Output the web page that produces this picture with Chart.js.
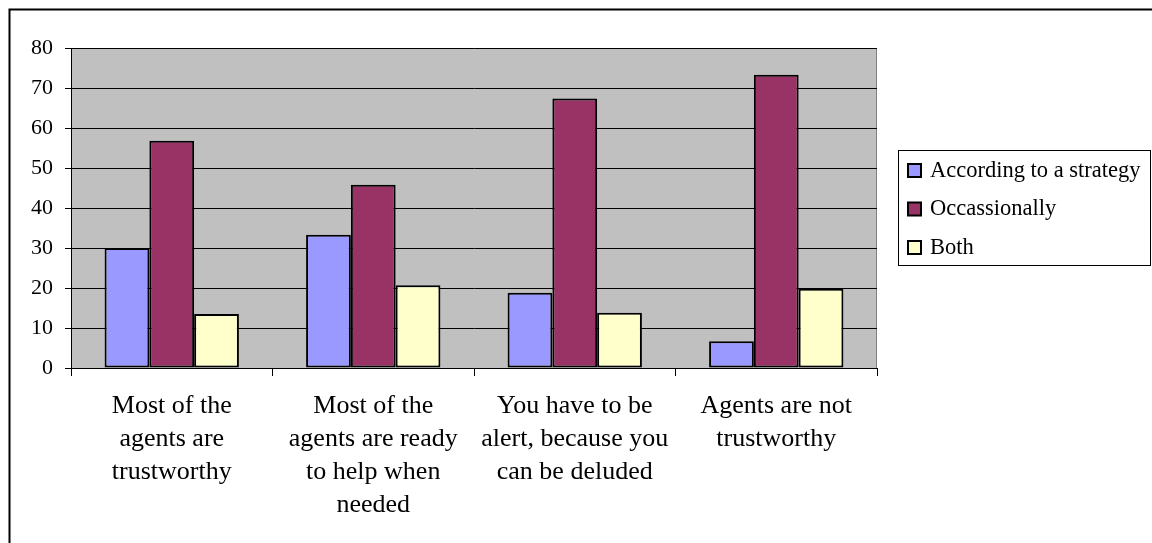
<!DOCTYPE html>
<html>
<head>
<meta charset="utf-8">
<script src="https://cdn.jsdelivr.net/npm/chart.js@4/dist/chart.umd.min.js"></script>
<style>
  html, body { margin: 0; padding: 0; background: #fff; }
  #wrap { width: 1152px; height: 543px; position: relative; }
</style>
</head>
<body>
<div id="wrap"><canvas id="grafico"></canvas></div>
<script>
const categorias = [
    ['Most of the', 'agents are', 'trustworthy'],
    ['Most of the', 'agents are ready', 'to help when', 'needed'],
    ['You have to be', 'alert, because you', 'can be deluded'],
    ['Agents are not', 'trustworthy']
];
const seriesNombres = ['According to a strategy', 'Occassionally', 'Both'];
const estrategia = [30, 33.3, 18.8, 6.7];
const ocasional = [56.8, 45.8, 67.4, 73.3];
const ambos = [13.5, 20.7, 13.8, 19.8];
const colores = ['#9999FF', '#993366', '#FFFFCC'];

const fuente = '"Liberation Serif", "Times New Roman", serif';

// fondo gris del area de trazado y marco exterior
const fondoPlugin = {
    id: 'fondo',
    beforeDraw(chart) {
        const c = chart.ctx, a = chart.chartArea;
        c.save();
        c.fillStyle = '#C0C0C0';
        c.fillRect(a.left, a.top, a.right - a.left, a.bottom - a.top);
        c.strokeStyle = '#808080';
        c.lineWidth = 1;
        c.beginPath();
        c.moveTo(a.left, a.top + 0.5);
        c.lineTo(a.right - 0.5, a.top + 0.5);
        c.lineTo(a.right - 0.5, a.bottom);
        c.stroke();
        c.strokeStyle = '#000';
        c.lineWidth = 2;
        c.beginPath();
        c.moveTo(9.5, 543);
        c.lineTo(9.5, 9.5);
        c.lineTo(1152, 9.5);
        c.stroke();
        c.restore();
    }
};

// leyenda con recuadro a la derecha
const leyendaPlugin = {
    id: 'leyenda',
    afterDraw(chart) {
        const c = chart.ctx;
        const x0 = 898, y0 = 150, w = 253, h = 116;
        c.save();
        c.fillStyle = '#fff';
        c.fillRect(x0, y0, w, h);
        c.strokeStyle = '#000';
        c.lineWidth = 1;
        c.strokeRect(x0 + 0.5, y0 + 0.5, w - 1, h - 1);
        c.font = '22.5px ' + fuente;
        c.textBaseline = 'middle';
        chart.data.datasets.forEach((ds, i) => {
            const yc = 170 + i * 38.5;
            c.fillStyle = ds.backgroundColor;
            c.fillRect(908, yc - 6, 13, 13);
            c.strokeStyle = '#000';
            c.lineWidth = 2;
            c.strokeRect(908, yc - 6, 13, 13);
            c.fillStyle = '#000';
            c.fillText(ds.label, 930, yc + 1);
        });
        c.restore();
    }
};

const ctx = document.getElementById('grafico').getContext('2d');
new Chart(ctx, {
    type: 'bar',
    data: {
        labels: categorias,
        datasets: [
            { label: seriesNombres[0], data: estrategia, backgroundColor: colores[0] },
            { label: seriesNombres[1], data: ocasional, backgroundColor: colores[1] },
            { label: seriesNombres[2], data: ambos, backgroundColor: colores[2] }
        ].map(d => Object.assign(d, {
            borderColor: '#000',
            borderWidth: 2,
            borderSkipped: false,
            categoryPercentage: 3 / 4.5,
            barPercentage: 1
        }))
    },
    options: {
        responsive: true,
        maintainAspectRatio: false,
        animation: false,
        layout: { padding: { left: 0, right: 275, top: 48, bottom: 0 } },
        scales: {
            x: {
                offset: true,
                grid: {
                    offset: true,
                    drawOnChartArea: false,
                    color: '#000',
                    tickLength: 8
                },
                border: { color: '#000', width: 1 },
                ticks: {
                    color: '#000',
                    font: { family: fuente, size: 26, lineHeight: 1.27 },
                    padding: 14,
                    maxRotation: 0,
                    autoSkip: false
                },
                afterFit(scale) { scale.height = 175; }
            },
            y: {
                min: 0,
                max: 80,
                grid: { color: '#000', tickLength: 6 },
                border: { color: '#000', width: 1 },
                ticks: {
                    stepSize: 10,
                    color: '#000',
                    font: { family: fuente, size: 22 },
                    padding: 12
                },
                afterFit(scale) { scale.width = 71; }
            }
        },
        plugins: {
            legend: { display: false },
            tooltip: { enabled: false }
        }
    },
    plugins: [fondoPlugin, leyendaPlugin]
});
</script>
</body>
</html>
